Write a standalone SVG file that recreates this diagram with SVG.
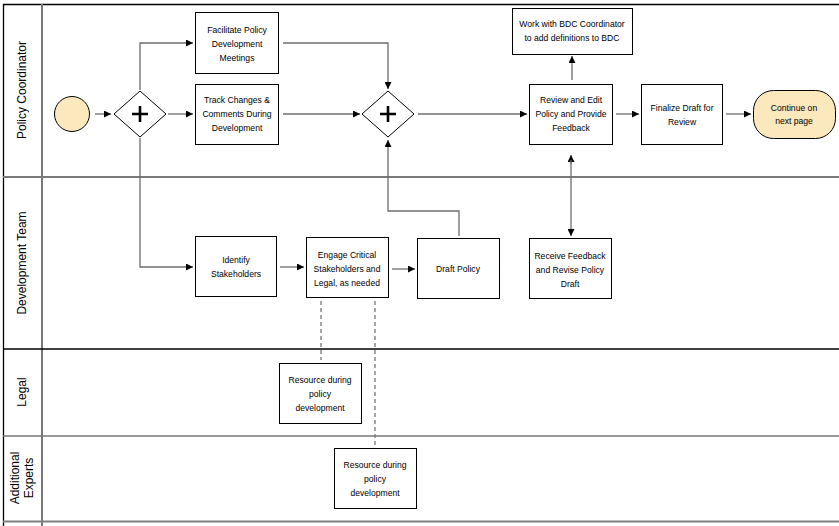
<svg xmlns="http://www.w3.org/2000/svg" width="839" height="526" viewBox="0 0 839 526">
<defs>
<marker id="ah" viewBox="0 0 10 10" refX="10" refY="5" markerWidth="7" markerHeight="7" markerUnits="userSpaceOnUse" orient="auto-start-reverse">
<path d="M0,0 L10,5 L0,10 z" fill="#000"/>
</marker>
<style>
.box{fill:#fff;stroke:#000;stroke-width:1}
.t{font-family:"Liberation Sans",Arial,sans-serif;font-size:8.6px;fill:#000;text-anchor:middle}
.lane{font-family:"Liberation Sans",Arial,sans-serif;font-size:12px;fill:#000;text-anchor:middle}
.c{fill:none;stroke:#6e6e6e;stroke-width:1.3;marker-end:url(#ah)}
.d{fill:none;stroke:#777;stroke-width:1.3;stroke-dasharray:4,3}
.gw{fill:#fff;stroke:#000;stroke-width:1}
</style>
</defs>
<rect width="839" height="526" fill="#fff"/>
<g id="pool">
<line x1="3" y1="4.5" x2="839" y2="4.5" stroke="#000" stroke-width="1.3"/>
<line x1="3.5" y1="4" x2="3.5" y2="526" stroke="#000" stroke-width="1.3"/>
<line x1="42" y1="4" x2="42" y2="526" stroke="#777" stroke-width="2"/>
<line x1="3" y1="177" x2="839" y2="177" stroke="#7a7a7a" stroke-width="2"/>
<line x1="3" y1="349" x2="839" y2="349" stroke="#000" stroke-width="1.3"/>
<line x1="3" y1="436" x2="839" y2="436" stroke="#777" stroke-width="1.6"/>
<line x1="3" y1="521.5" x2="839" y2="521.5" stroke="#808080" stroke-width="2"/>
<text class="lane" transform="translate(26,90) rotate(-90)">Policy Coordinator</text>
<text class="lane" transform="translate(26,263) rotate(-90)">Development Team</text>
<text class="lane" transform="translate(26,392) rotate(-90)">Legal</text>
<text class="lane" transform="translate(19,478) rotate(-90)">Additional</text>
<text class="lane" transform="translate(33,478) rotate(-90)">Experts</text>
</g>
<g id="connectors">
<path class="c" d="M95,114 H111"/>
<path class="c" d="M168,114 H193"/>
<path class="c" d="M140,90 V43 H193"/>
<path class="c" d="M140,138 V267 H193"/>
<path class="c" d="M283,43 H388 V89"/>
<path class="c" d="M283,114 H360"/>
<path class="c" d="M418,114 H527"/>
<path class="c" d="M459,236 V211 H388 V140"/>
<path class="c" d="M572,80 V56"/>
<path class="c" d="M571,164 V155"/>
<path class="c" d="M571,160 V236"/>
<path class="c" d="M616,114 H639"/>
<path class="c" d="M726,114 H751"/>
<path class="c" d="M280,267 H304"/>
<path class="c" d="M392,269 H415"/>
<path class="d" d="M321,301 V360"/>
<path class="d" d="M375,301 V445"/>
</g>
<g id="start"><circle cx="72" cy="114" r="17.5" fill="#fbe8bd" stroke="#000" stroke-width="1"/></g>
<g id="gateway1">
<polygon class="gw" points="140,91 166,114 140,137 114,114"/>
<path d="M140,106 V122 M132,114 H148" stroke="#000" stroke-width="2.6"/>
</g>
<g id="gateway2">
<polygon class="gw" points="388,91 414,114 388,137 362,114"/>
<path d="M388,106 V122 M380,114 H396" stroke="#000" stroke-width="2.6"/>
</g>
<g id="facilitate">
<rect class="box" x="195.5" y="12.5" width="83" height="61"/>
<text class="t" x="237" y="33">Facilitate Policy</text>
<text class="t" x="237" y="47">Development</text>
<text class="t" x="237" y="61">Meetings</text>
</g>
<g id="track">
<rect class="box" x="195.5" y="84.5" width="83" height="60"/>
<text class="t" x="237" y="103">Track Changes &amp;</text>
<text class="t" x="237" y="117">Comments During</text>
<text class="t" x="237" y="131">Development</text>
</g>
<g id="review">
<rect class="box" x="529.5" y="84.5" width="83" height="60"/>
<text class="t" x="571" y="103">Review and Edit</text>
<text class="t" x="571" y="117">Policy and Provide</text>
<text class="t" x="571" y="131">Feedback</text>
</g>
<g id="bdc">
<rect class="box" x="512.5" y="8.5" width="120" height="46"/>
<text class="t" x="572" y="27">Work with BDC Coordinator</text>
<text class="t" x="572" y="41">to add definitions to BDC</text>
</g>
<g id="finalize">
<rect class="box" x="641.5" y="84.5" width="81" height="60"/>
<text class="t" x="682" y="111">Finalize Draft for</text>
<text class="t" x="682" y="125">Review</text>
</g>
<g id="continue">
<rect x="753.5" y="90.5" width="82" height="48" rx="20" ry="20" fill="#fbe8bd" stroke="#000" stroke-width="1"/>
<text class="t" x="794" y="111">Continue on</text>
<text class="t" x="794" y="124">next page</text>
</g>
<g id="identify">
<rect class="box" x="195.5" y="236.5" width="81" height="60"/>
<text class="t" x="236" y="263">Identify</text>
<text class="t" x="236" y="277">Stakeholders</text>
</g>
<g id="engage">
<rect class="box" x="306.5" y="237.5" width="82" height="60"/>
<text class="t" x="347" y="258">Engage Critical</text>
<text class="t" x="347" y="272">Stakeholders and</text>
<text class="t" x="347" y="286">Legal, as needed</text>
</g>
<g id="draft">
<rect class="box" x="417.5" y="238.5" width="82" height="60"/>
<text class="t" x="458" y="272">Draft Policy</text>
</g>
<g id="receive">
<rect class="box" x="529.5" y="238.5" width="82" height="60"/>
<text class="t" x="570" y="259">Receive Feedback</text>
<text class="t" x="570" y="273">and Revise Policy</text>
<text class="t" x="570" y="287">Draft</text>
</g>
<g id="resource-legal">
<rect class="box" x="279.5" y="363.5" width="82" height="60"/>
<text class="t" x="320" y="383">Resource during</text>
<text class="t" x="320" y="397">policy</text>
<text class="t" x="320" y="411">development</text>
</g>
<g id="resource-experts">
<rect class="box" x="334.5" y="448.5" width="82" height="60"/>
<text class="t" x="375" y="468">Resource during</text>
<text class="t" x="375" y="482">policy</text>
<text class="t" x="375" y="496">development</text>
</g>
</svg>
